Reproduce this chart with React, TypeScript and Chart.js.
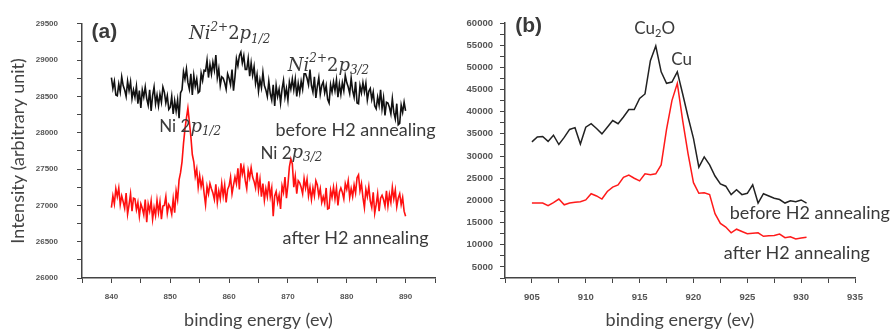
import React, { useEffect, useRef } from "react";
import { Chart, registerables } from "chart.js";

Chart.register(...registerables);

// ---------- Panel (a): Ni 2p XPS, 840–890 eV, 0.25 eV steps ----------
const A_START = 840;
const A_STEP = 0.25;

const niBefore: number[] = [
  28760, 28610, 28710, 28520, 28510, 28670, 28560, 28770,
  28650, 28590, 28500, 28710, 28580, 28700, 28470, 28590,
  28490, 28640, 28400, 28580, 28340, 28590, 28490, 28630,
  28470, 28380, 28590, 28300, 28510, 28630, 28400, 28520,
  28370, 28530, 28420, 28630, 28560, 28410, 28510, 28320,
  28350, 28500, 28260, 28440, 28300, 28450, 28200, 28550,
  28590, 28840, 28740, 28880, 28690, 28600, 28810, 28520,
  28790, 28640, 28740, 28550, 28570, 28820, 28720, 28860,
  28850, 29000, 28760, 28940, 28810, 28970, 28860, 29070,
  28760, 28880, 28650, 28770, 28750, 28690, 28600, 28810,
  28750, 28660, 28870, 28580, 28770, 29020, 28920, 29060,
  29110, 28960, 29060, 28870, 28870, 29020, 28780, 28960,
  28790, 28910, 28680, 28800, 28570, 28730, 28620, 28830,
  28650, 28590, 28500, 28710, 28540, 28450, 28660, 28370,
  28650, 28500, 28600, 28410, 28600, 28720, 28490, 28610,
  28450, 28700, 28600, 28740, 28590, 28740, 28500, 28680,
  28550, 28710, 28600, 28810, 28810, 28750, 28660, 28870,
  28650, 28560, 28770, 28480, 28640, 28760, 28530, 28650,
  28700, 28550, 28650, 28460, 28410, 28660, 28560, 28700,
  28580, 28730, 28490, 28670, 28530, 28690, 28580, 28790,
  28690, 28630, 28540, 28750, 28580, 28490, 28700, 28410,
  28400, 28650, 28550, 28690, 28560, 28680, 28450, 28570,
  28610, 28460, 28560, 28370, 28330, 28490, 28380, 28590,
  28330, 28480, 28240, 28420, 28410, 28350, 28260, 28470,
  28280, 28190, 28400, 28110, 28130, 28380, 28280, 28420,
  28300,
];

const niAfter: number[] = [
  26970, 27130, 27020, 27230, 27120, 27240, 27010, 27130,
  27050, 26960, 27170, 26880, 27010, 27160, 26920, 27100,
  27090, 26940, 27040, 26850, 27020, 26960, 26870, 27080,
  26770, 27020, 26920, 27060, 26810, 26970, 26860, 27070,
  26900, 27050, 26810, 26990, 27000, 27120, 26890, 27010,
  26970, 26880, 27090, 26900, 27200, 27080, 27350, 27450,
  27600, 27850, 28050, 28200, 28340, 28150, 27950, 27700,
  27600, 27400, 27500, 27250, 27410, 27260, 27360, 27170,
  27010, 27260, 27160, 27300, 27230, 27170, 27080, 27290,
  27040, 27200, 27090, 27300, 27130, 27280, 27040, 27220,
  27270, 27390, 27160, 27280, 27390, 27300, 27510, 27220,
  27580, 27430, 27530, 27340, 27230, 27480, 27380, 27520,
  27390, 27330, 27240, 27450, 27210, 27360, 27120, 27300,
  27070, 27230, 27120, 27330, 27120, 27240, 26850, 27130,
  27190, 27040, 27140, 26950, 27270, 27180, 27390, 27100,
  27280, 27530, 27640, 27570, 27250, 27400, 27160, 27340,
  27310, 27250, 27160, 27370, 27240, 27360, 27130, 27250,
  27080, 27240, 27130, 27340, 27280, 27130, 27230, 27040,
  27120, 27030, 27240, 26950, 26960, 27210, 27110, 27250,
  27090, 27240, 27000, 27180, 27240, 27180, 27090, 27300,
  27220, 27340, 27110, 27230, 27120, 27280, 27170, 27380,
  27420, 27200, 27300, 27110, 26970, 27220, 27120, 27260,
  27060, 26970, 27180, 26890, 27010, 27160, 26920, 27100,
  27140, 27080, 26990, 27200, 26990, 27150, 27040, 27250,
  27090, 27210, 26980, 27100, 27160, 27010, 27110, 26920,
  26850,
];

// ---------- Panel (b): Cu 2p XPS, 905–930.5 eV, 0.5 eV steps ----------
const B_START = 905;
const B_STEP = 0.5;

const cuBefore: number[] = [
  33200, 34300, 34400, 33300, 34700, 32600, 34200, 36000, 36400, 32700,
  36500, 37300, 36200, 35000, 36500, 38000, 37300, 38800, 40500, 40500,
  43000, 44000, 51500, 54800, 49000, 46400, 46700, 49000, 44000, 38800,
  34000, 27500, 29800, 28000, 25500, 23700, 23200, 21300, 22400, 21300,
  21600, 23500, 19400, 21500, 21000, 20500, 20200, 19400, 19900, 19700,
  20100, 19400,
];

const cuAfter: number[] = [
  19400, 19400, 19400, 18800, 19500, 20300, 19000, 19400, 19600, 19700,
  20100, 21500, 21000, 20300, 22000, 23000, 23500, 25200, 25700, 25000,
  24400, 26000, 25800, 26000, 28000, 36000, 42500, 46400, 38000, 30500,
  24000, 21600, 21700, 21300, 17000, 14800, 14000, 12700, 13500, 13000,
  12500, 12600, 12700, 11900, 12000, 12100, 12400, 11600, 11800, 11300,
  11500, 11700,
];

// axis ranges
const A_X = { min: 835, max: 895, step: 5, label: 10 };
const A_Y = { min: 26000, max: 29500, step: 250, label: 500 };
const B_X = { min: 902.5, max: 935, step: 2.5, label: 5 };
const B_Y = { min: 2500, max: 60000, step: 2500, label: 5000 };

type Seg = { t: string; font: string; dy?: number };
type Note = { segs: Seg[]; x: number; y: number };

const SANS = "Lato";
const SERIF = '"DejaVu Serif"';
const TXT = "#3a3a3a";

const niIon = (sub: string): Seg[] => [
  { t: "Ni", font: `italic 18px ${SERIF}` },
  { t: "2+", font: `italic 12px ${SERIF}`, dy: -7 },
  { t: "2", font: `18px ${SERIF}` },
  { t: "p", font: `italic 18px ${SERIF}` },
  { t: sub, font: `italic 12px ${SERIF}`, dy: 5 },
];
const niMetal = (sub: string): Seg[] => [
  { t: "Ni 2", font: `17px ${SANS}` },
  { t: "p", font: `italic 18px ${SERIF}` },
  { t: sub, font: `italic 12px ${SERIF}`, dy: 5 },
];

const notesA: Note[] = [
  { segs: [{ t: "(a)", font: `bold 21px "Liberation Sans"` }], x: 838.8, y: 29390 },
  { segs: niIon("1/2"), x: 860.1, y: 29350 },
  { segs: niIon("3/2"), x: 876.9, y: 28920 },
  { segs: niMetal("1/2"), x: 853.4, y: 28080 },
  { segs: niMetal("3/2"), x: 870.6, y: 27720 },
  { segs: [{ t: "before H2 annealing", font: `18px ${SANS}` }], x: 881.5, y: 28030 },
  { segs: [{ t: "after H2 annealing", font: `18px ${SANS}` }], x: 881.5, y: 26555 },
];

const notesB: Note[] = [
  { segs: [{ t: "(b)", font: `bold 21px "Liberation Sans"` }], x: 904.7, y: 59300 },
  {
    segs: [
      { t: "Cu", font: `17px ${SANS}` },
      { t: "2", font: `11px ${SANS}`, dy: 4 },
      { t: "O", font: `17px ${SANS}` },
    ],
    x: 916.4,
    y: 58650,
  },
  { segs: [{ t: "Cu", font: `17px ${SANS}` }], x: 918.9, y: 51660 },
  { segs: [{ t: "before H2 annealing", font: `18px ${SANS}` }], x: 930.8, y: 17170 },
  { segs: [{ t: "after H2 annealing", font: `18px ${SANS}` }], x: 929.6, y: 8160 },
];

function drawRich(ctx: CanvasRenderingContext2D, segs: Seg[], cx: number, cy: number) {
  ctx.save();
  ctx.fillStyle = TXT;
  ctx.textBaseline = "middle";
  ctx.textAlign = "left";
  const widths = segs.map((s) => {
    ctx.font = s.font;
    return ctx.measureText(s.t).width;
  });
  const total = widths.reduce((a, b) => a + b, 0);
  let x = cx - total / 2;
  segs.forEach((s, i) => {
    ctx.font = s.font;
    ctx.fillText(s.t, x, cy + (s.dy || 0));
    x += widths[i];
  });
  ctx.restore();
}

function notesPlugin(notes: Note[]) {
  return {
    id: "notes",
    afterDraw(chart: any) {
      const xs = chart.scales.x;
      const ys = chart.scales.y;
      notes.forEach((n) => drawRich(chart.ctx, n.segs, xs.getPixelForValue(n.x), ys.getPixelForValue(n.y)));
    },
  };
}

const isMult = (v: number, m: number) => Math.abs(v / m - Math.round(v / m)) < 1e-6;

function makeXY(start: number, step: number, vals: number[]) {
  return vals.map((y, i) => ({ x: start + i * step, y }));
}

type Cfg = {
  padding: { left: number; top: number; right: number; bottom: number };
  yWidth: number;
  xHeight: number;
  xr: typeof A_X;
  yr: typeof A_Y;
  yTitle: string | null;
  yPad: number;
  tickFont: number;
  datasets: any[];
  notes: Note[];
};

function buildChart(canvas: HTMLCanvasElement, c: Cfg) {
  const axisColor = "#444";
  return new Chart(canvas, {
    type: "line",
    data: { datasets: c.datasets },
    options: {
      animation: false,
      responsive: false,
      maintainAspectRatio: false,
      devicePixelRatio: 1,
      layout: { padding: c.padding },
      plugins: { legend: { display: false }, tooltip: { enabled: false } },
      elements: { point: { radius: 0 }, line: { tension: 0 } },
      scales: {
        x: {
          type: "linear",
          min: c.xr.min,
          max: c.xr.max,
          afterFit: (s: any) => {
            s.height = c.xHeight;
          },
          border: { display: true, color: axisColor, width: 1.5 },
          grid: { display: true, drawOnChartArea: false, drawTicks: true, tickLength: 5, color: axisColor, lineWidth: 1 },
          ticks: {
            stepSize: c.xr.step,
            autoSkip: false,
            maxRotation: 0,
            padding: 9,
            color: "#555",
            font: { family: '"Liberation Sans"', size: c.tickFont, weight: "bold" },
            callback: (v: any) => (isMult(Number(v), c.xr.label) ? String(Number(v)) : ""),
          },
          title: {
            display: true,
            text: "binding energy (ev)",
            color: "#444",
            font: { family: SANS, size: 18 },
            padding: { top: 0, bottom: 0 },
          },
        },
        y: {
          type: "linear",
          min: c.yr.min,
          max: c.yr.max,
          afterFit: (s: any) => {
            s.width = c.yWidth;
          },
          border: { display: true, color: axisColor, width: 1.5 },
          grid: { display: true, drawOnChartArea: false, drawTicks: true, tickLength: 5, color: axisColor, lineWidth: 1 },
          ticks: {
            stepSize: c.yr.step,
            autoSkip: false,
            padding: c.yPad,
            color: "#555",
            font: { family: '"Liberation Sans"', size: c.tickFont, weight: "bold" },
            callback: (v: any) => (isMult(Number(v), c.yr.label) ? String(Number(v)) : ""),
          },
          title: {
            display: !!c.yTitle,
            text: c.yTitle || "",
            color: "#444",
            font: { family: SANS, size: 18 },
            padding: { top: 7, bottom: 0 },
          },
        },
      },
    },
    plugins: [notesPlugin(c.notes)],
  } as any);
}

export default function App() {
  const refA = useRef<HTMLCanvasElement>(null);
  const refB = useRef<HTMLCanvasElement>(null);

  useEffect(() => {
    const chartA = buildChart(refA.current!, {
      padding: { left: 0, top: 19, right: 11, bottom: 0 },
      yWidth: 82,
      xHeight: 53,
      xr: A_X,
      yr: A_Y,
      yTitle: "Intensity (arbitrary unit)",
      yPad: 19,
      tickFont: 8,
      notes: notesA,
      datasets: [
        { data: makeXY(A_START, A_STEP, niBefore), borderColor: "#111", borderWidth: 1.6 },
        { data: makeXY(A_START, A_STEP, niAfter), borderColor: "#ff1010", borderWidth: 1.6 },
      ],
    });
    const chartB = buildChart(refB.current!, {
      padding: { left: 0, top: 23, right: 38, bottom: 0 },
      yWidth: 59,
      xHeight: 53,
      xr: B_X,
      yr: B_Y,
      yTitle: null,
      yPad: 7,
      tickFont: 9.5,
      notes: notesB,
      datasets: [
        { data: makeXY(B_START, B_STEP, cuBefore), borderColor: "#222", borderWidth: 1.5 },
        { data: makeXY(B_START, B_STEP, cuAfter), borderColor: "#ff1a1a", borderWidth: 1.5 },
      ],
    });
    return () => {
      chartA.destroy();
      chartB.destroy();
    };
  }, []);

  return (
    <div style={{ position: "fixed", left: 0, top: 0, width: 893, height: 331, background: "#fff", overflow: "hidden" }}>
      <canvas ref={refA} width={446} height={331} style={{ position: "absolute", left: 0, top: 0, width: 446, height: 331 }} />
      <canvas ref={refB} width={447} height={331} style={{ position: "absolute", left: 446, top: 0, width: 447, height: 331 }} />
    </div>
  );
}
